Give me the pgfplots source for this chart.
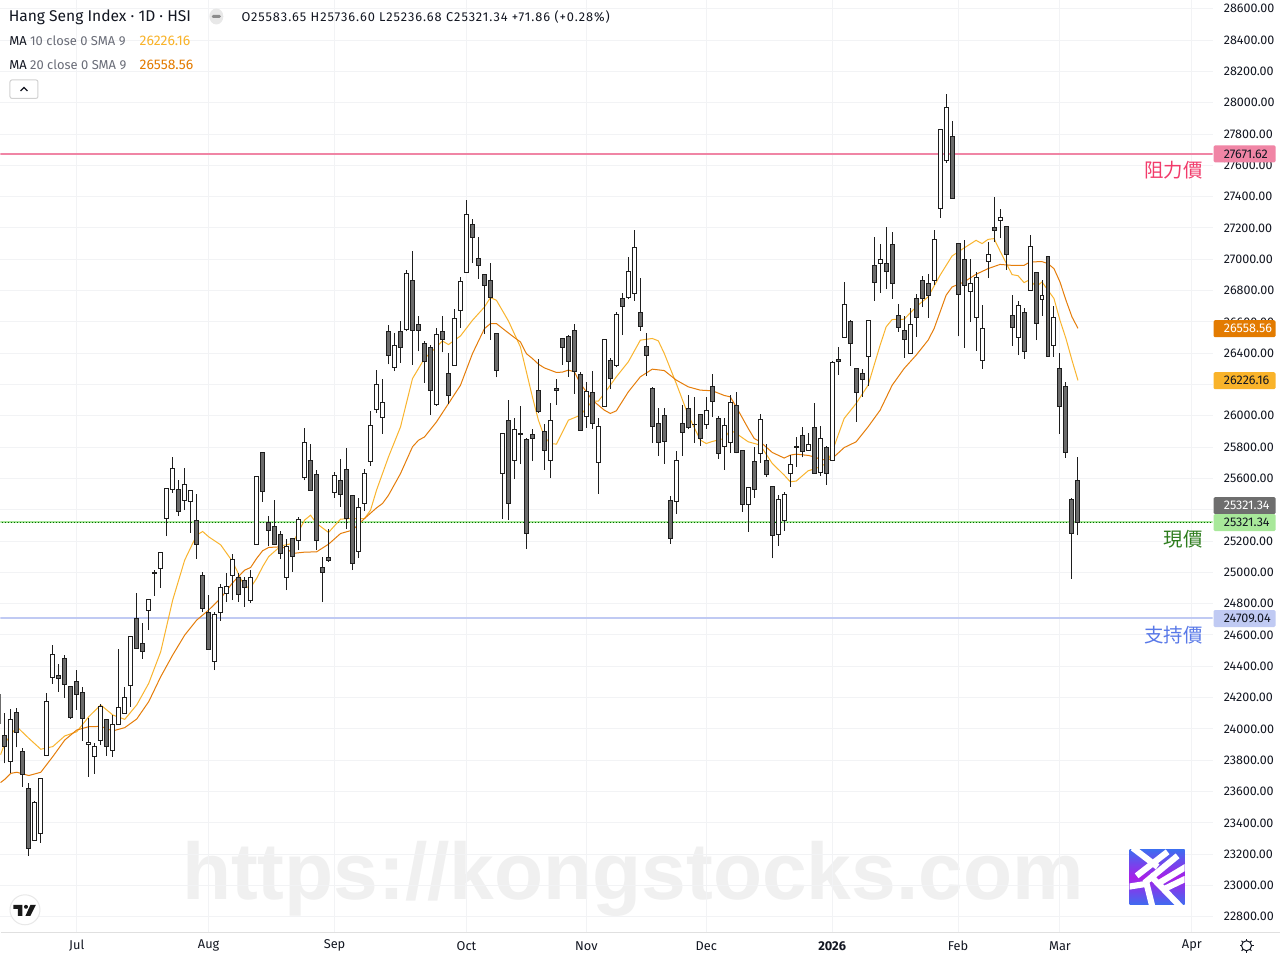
\documentclass[border=0pt]{standalone}
\usepackage{fontspec}
\usepackage{pgfplots}
\pgfplotsset{compat=1.18}
\usetikzlibrary{calc}
\setmainfont{Fira Sans}
\newfontfamily\wmfont{Liberation Sans}
\newfontfamily\cjk{Noto Sans CJK TC}
\definecolor{gridc}{HTML}{F2F3F5}
\definecolor{candle}{HTML}{1E1E1E}
\definecolor{downc}{HTML}{6B6B6B}
\definecolor{maa}{HTML}{F9B42E}
\definecolor{mab}{HTML}{E57D0A}
\definecolor{tagpink}{HTML}{F085A5}
\definecolor{tagblue}{HTML}{C0CAF3}
\definecolor{taggreen}{HTML}{A8E89A}
\definecolor{tagorange}{HTML}{E37B00}
\definecolor{tagamber}{HTML}{F9B32A}
\definecolor{taggray}{HTML}{6E6E6E}
\definecolor{txt}{HTML}{131722}
\definecolor{txtg}{HTML}{6A6D78}
\definecolor{capred}{HTML}{F23B6B}
\definecolor{capgreen}{HTML}{2E7D1E}
\definecolor{capblue}{HTML}{5878E8}
\definecolor{logob}{HTML}{3F6CF0}
\definecolor{logop}{HTML}{A81FE8}
\pgfplotsset{
  cl/.style={draw=candle,line width=0.75pt,forget plot},
  cw/.style={draw=candle,fill=white,line width=0.75pt,forget plot},
  cd/.style={draw=candle,fill=downc,line width=0.75pt,forget plot}
}
% x, high, body top, body bottom, low
\newcommand{\candle}[6]{%
  \pgfmathsetmacro\xa{#2-0.333}\pgfmathsetmacro\xb{#2+0.333}%
  \addplot[cl] coordinates {(#2,#6)(#2,#3)};
  \addplot[#1] coordinates {(\xa,#5)(\xb,#5)(\xb,#4)(\xa,#4)} -- cycle;}
\newcommand{\W}[5]{\candle{cw}{#1}{#2}{#3}{#4}{#5}}
\newcommand{\D}[5]{\candle{cd}{#1}{#2}{#3}{#4}{#5}}
\newcommand{\fs}[1]{\fontsize{#1}{#1}\selectfont}
\newcommand{\tagbox}[5]{% y-top, y-bottom, fill, text colour, text
  \fill[#3,rounded corners=1pt] (1214,#1) rectangle (1276,#2);
  \node[anchor=west,inner sep=0pt,text=#4,font=\fs{9.4}] at (1224,{(#1+#2)/2}) {#5};}
\begin{document}
\begin{tikzpicture}
\begin{scope}[x=0.75pt,y=-0.75pt]
\useasboundingbox (0,0) rectangle (1280,960);
\fill[white] (0,0) rectangle (1280,960);
\node[anchor=base west,inner sep=0pt,text=black!6,font={\fontsize{60.3}{60.3}\selectfont\wmfont\bfseries}] at (181.5,900) {https://kongstocks.com};
\end{scope}
\begin{axis}[
  at={(0pt,-699pt)},anchor=south west,
  width=909.75pt,height=699pt,scale only axis,
  xmin=-0.722,xmax=201.45,ymin=22704,ymax=28653,
  axis line style={draw=none},
  tick style={draw=none},
  major tick length=0pt,
  grid=major,
  major grid style={draw=gridc,line width=0.75pt},
  xtick={12,34,55,77,97,117,138,159,176,198},
  xticklabels={Jul,Aug,Sep,Oct,Nov,Dec,\textbf{2026},Feb,Mar,Apr},
  xticklabel style={anchor=center,yshift=-10.5pt,inner sep=0pt,font=\fs{9.6},text=txt},
  ytick={22800,23000,23200,23400,23600,23800,24000,24200,24400,24600,24800,25000,25200,25400,25600,25800,26000,26200,26400,26600,26800,27000,27200,27400,27600,27800,28000,28200,28400,28600},
  yticklabel pos=right,
  yticklabel style={anchor=west,inner sep=0pt,xshift=8.25pt,font=\fs{9.4},text=txt},
  scaled y ticks=false,
  /pgf/number format/fixed,
  /pgf/number format/fixed zerofill,
  /pgf/number format/precision=2,
  /pgf/number format/1000 sep={},
  /pgf/number format/assume math mode=true,
]
% level lines
\addplot[tagpink,line width=1.7pt,forget plot] coordinates {(-1,27671.62) (202,27671.62)};
\addplot[tagblue,line width=1.7pt,forget plot] coordinates {(-1,24709.04) (202,24709.04)};
\addplot[taggreen,line width=1.5pt,forget plot] coordinates {(-1,25321.34) (202,25321.34)};
\addplot[green!40!black,line width=0.5pt,dash pattern=on 0.75pt off 1.5pt,forget plot] coordinates {(-1,25321.34) (202,25321.34)};
% MA 10
\addplot[maa,line width=0.75pt,forget plot] coordinates {
(-0.72,23834)(0,23908)(2,24014)(4,23940)(6,23870)(8,23887)(10,23955)(12,23982)(14,24078)(16,24153)(18,24089)(20,24061)(22,24153)(24,24291)(26,24493)(28,24823)(30,25078)(32,25238)(33,25261)(34,25227)(36,25176)(38,25068)(40,24908)(41,24904)
(42,24961)(43,25036)(44,25100)(46,25168)(48,25185)(50,25334)(51,25365)(52,25312)(54,25255)(56,25340)(58,25344)(60,25344)(61,25397)(62,25525)(64,25738)(66,25929)(68,26238)(70,26366)(72,26440)(73,26478)(74,26455)(76,26510)(78,26610)(80,26695)(81,26755)(82,26738)(84,26606)(86,26440)(88,26121)
(89,25972)(90,25866)(91,25823)(92,25819)(94,25972)(96,26004)(98,26094)(99,26094)(100,26143)(102,26249)(104,26345)(106,26483)(108,26494)(109,26479)(110,26398)(112,26206)(114,26004)(116,25845)(117,25823)(118,25836)(120,25855)(121,25909)(122,25887)(124,25834)(126,25813)(128,25696)(130,25621)(131,25579)(132,25583)(134,25649)(135,25660)
(136,25675)(137,25696)(138,25770)(140,25983)(142,26079)(144,26196)(146,26451)(147,26568)(148,26615)(150,26617)(152,26696)(154,26760)(156,26898)(158,27021)(160,27072)(162,27121)(163,27100)(164,27127)(165,27132)(166,27053)(168,26902)(169,26895)(170,26851)(171,26870)(172,26823)(173,26855)(174,26802)(175,26749)(176,26610)(177,26493)(178,26355)(179,26226.16)};
% MA 20
\addplot[mab,line width=0.75pt,forget plot] coordinates {
(-0.72,23657)(0,23678)(1,23716)(2,23723)(4,23702)(6,23723)(8,23823)(10,23929)(12,23993)(14,24014)(16,24016)(18,23987)(20,24008)(22,24063)(24,24174)(26,24333)(28,24472)(30,24599)(32,24695)(34,24759)(36,24834)(38,24934)(40,25014)(41,25031)
(42,25089)(43,25138)(44,25159)(46,25163)(47,25153)(48,25121)(50,25129)(52,25131)(54,25180)(56,25248)(58,25270)(60,25344)(62,25412)(63,25440)(64,25493)(66,25631)(68,25802)(69,25844)(70,25865)(72,25961)(74,26078)(76,26195)(78,26397)(80,26557)(81,26589)(82,26589)(84,26529)(85,26500)(86,26472)(87,26397)(88,26366)
(89,26330)(90,26306)(92,26277)(93,26279)(94,26292)(95,26281)(96,26206)(98,26100)(100,26036)(101,26015)(102,26032)(104,26153)(106,26249)(108,26298)(110,26289)(112,26228)(114,26185)(116,26164)(118,26160)(120,26130)(121,26121)(122,26057)(124,25919)(125,25855)(126,25834)(128,25766)(130,25730)(131,25749)(132,25755)(134,25747)(135,25738)
(136,25723)(137,25717)(138,25727)(140,25797)(142,25834)(144,25930)(146,26036)(148,26195)(150,26302)(152,26387)(154,26483)(155,26557)(156,26663)(157,26770)(158,26823)(160,26855)(162,26904)(164,26940)(166,26967)(168,26961)(170,26961)(171,26983)(173,26985)(174,26972)(175,26940)(176,26855)(177,26738)(178,26632)(179,26558.56)};
% candles: x, high, top, bottom, low
\W{-1}{24221}{24221}{24036}{24036}
\D{0}{24100}{23959}{23887}{23780}
\W{1}{24125}{24061}{23791}{23716}
\D{2}{24131}{24106}{23976}{23882}
\D{3}{23876}{23857}{23710}{23631}
\D{4}{23653}{23621}{23238}{23191}
\W{5}{23540}{23531}{23289}{23289}
\W{6}{23685}{23685}{23333}{23274}
\W{7}{24227}{24176}{23831}{23831}
\W{8}{24536}{24476}{24329}{24287}
\D{9}{24414}{24342}{24323}{24236}
\D{10}{24470}{24451}{24285}{24199}
\D{11}{24272}{24272}{24074}{24065}
\D{12}{24376}{24304}{24221}{24121}
\D{13}{24265}{24233}{24068}{23923}
\W{14}{24068}{23914}{23902}{23695}
\W{15}{23908}{23889}{23825}{23712}
\W{16}{24157}{24144}{23927}{23897}
\D{17}{24061}{24061}{23889}{23827}
\W{18}{24089}{24029}{23863}{23823}
\W{19}{24510}{24138}{24029}{24029}
\W{20}{24270}{24202}{24099}{24099}
\W{21}{24591}{24591}{24278}{24142}
\D{22}{24865}{24706}{24514}{24514}
\D{23}{24674}{24546}{24495}{24448}
\W{24}{24827}{24827}{24757}{24631}
\W{25}{25014}{24997}{24993}{24851}
\W{26}{25127}{25127}{25025}{24902}
\W{27}{25536}{25536}{25344}{25231}
\W{28}{25734}{25663}{25529}{25508}
\D{29}{25589}{25529}{25389}{25359}
\W{30}{25665}{25561}{25459}{25397}
\W{31}{25529}{25523}{25453}{25253}
\D{32}{25499}{25331}{25178}{25087}
\D{33}{25002}{24980}{24770}{24746}
\D{34}{24855}{24744}{24508}{24508}
\W{35}{24748}{24731}{24431}{24376}
\W{36}{24925}{24904}{24744}{24691}
\W{37}{24999}{24910}{24865}{24810}
\W{38}{25117}{25082}{24980}{24823}
\D{39}{24999}{24968}{24859}{24812}
\D{40}{24968}{24948}{24904}{24780}
\W{41}{25014}{24968}{24819}{24806}
\W{42}{25612}{25612}{25178}{25178}
\D{43}{25765}{25765}{25514}{25451}
\D{44}{25359}{25319}{25268}{25168}
\D{45}{25465}{25293}{25178}{25178}
\D{46}{25263}{25242}{25121}{25085}
\W{47}{25210}{25165}{24968}{24887}
\D{48}{25217}{25217}{25102}{25004}
\W{49}{25351}{25338}{25204}{25142}
\W{50}{25919}{25829}{25606}{25589}
\D{51}{25819}{25714}{25523}{25523}
\D{52}{25653}{25625}{25204}{25142}
\D{53}{25095}{25031}{25000}{24810}
\D{54}{25274}{25095}{25076}{25068}
\W{55}{25638}{25619}{25510}{25476}
\D{56}{25721}{25587}{25497}{25419}
\D{57}{25793}{25657}{25344}{25276}
\D{58}{25491}{25491}{25057}{25014}
\W{59}{25472}{25414}{25134}{25091}
\W{60}{25663}{25631}{25440}{25391}
\W{61}{26029}{25938}{25708}{25680}
\W{62}{26295}{26200}{26040}{26019}
\W{63}{26238}{26085}{25989}{25885}
\D{64}{26583}{26538}{26385}{26329}
\W{65}{26531}{26448}{26308}{26285}
\D{66}{26604}{26538}{26436}{26338}
\W{67}{26934}{26908}{26551}{26540}
\D{68}{27055}{26863}{26544}{26325}
\D{69}{26640}{26583}{26544}{26412}
\D{70}{26480}{26461}{26346}{26210}
\D{71}{26455}{26436}{26161}{26006}
\W{72}{26563}{26519}{26072}{26063}
\D{73}{26640}{26538}{26487}{26406}
\D{74}{26404}{26270}{26129}{26078}
\W{75}{26685}{26621}{26321}{26321}
\W{76}{26889}{26857}{26672}{26563}
\W{77}{27380}{27285}{26914}{26914}
\D{78}{27259}{27221}{27138}{26976}
\D{79}{27144}{27004}{26959}{26874}
\D{80}{26908}{26902}{26831}{26521}
\D{81}{26978}{26863}{26755}{26483}
\D{82}{26525}{26525}{26289}{26246}
\W{83}{25893}{25887}{25631}{25340}
\D{84}{26104}{25970}{25440}{25334}
\W{85}{25983}{25912}{25714}{25595}
\W{86}{26061}{25887}{25883}{25691}
\D{87}{25861}{25848}{25248}{25148}
\D{88}{25914}{25880}{25855}{25710}
\D{89}{26366}{26162}{26028}{26019}
\D{90}{25945}{25900}{25779}{25655}
\W{91}{26079}{25970}{25715}{25600}
\D{92}{26238}{26175}{26162}{26070}
\D{93}{26494}{26494}{26436}{26326}
\D{94}{26519}{26506}{26347}{26249}
\D{95}{26589}{26545}{26283}{26140}
\D{96}{26283}{26264}{25906}{25906}
\W{97}{26219}{26155}{25996}{25923}
\D{98}{26289}{26149}{25951}{25915}
\W{99}{25983}{25932}{25702}{25502}
\W{100}{26487}{26487}{26060}{26060}
\D{101}{26372}{26353}{26238}{26170}
\W{102}{26666}{26647}{26321}{26309}
\D{103}{26787}{26749}{26698}{26515}
\W{104}{27017}{26921}{26755}{26743}
\W{105}{27189}{27075}{26781}{26734}
\D{106}{26883}{26660}{26570}{26543}
\D{107}{26532}{26443}{26385}{26253}
\D{108}{26187}{26175}{25932}{25828}
\D{109}{26047}{25951}{25830}{25745}
\D{110}{26047}{26002}{25836}{25694}
\D{111}{25485}{25460}{25217}{25183}
\W{112}{25772}{25715}{25453}{25374}
\D{113}{26066}{25951}{25894}{25745}
\D{114}{26136}{26047}{25926}{25913}
\W{115}{26123}{25947}{25943}{25828}
\D{116}{26009}{26009}{25855}{25809}
\W{117}{26121}{26034}{25945}{25917}
\D{118}{26264}{26187}{26092}{25992}
\D{119}{25996}{25983}{25760}{25726}
\W{120}{25989}{25938}{25804}{25655}
\W{121}{26130}{26085}{25830}{25764}
\D{122}{26149}{26066}{25766}{25760}
\D{123}{25779}{25779}{25434}{25387}
\W{124}{25543}{25543}{25434}{25260}
\D{125}{25798}{25709}{25530}{25477}
\W{126}{26009}{25977}{25760}{25700}
\D{127}{25823}{25715}{25626}{25611}
\D{128}{25549}{25549}{25236}{25089}
\W{129}{25492}{25466}{25243}{25170}
\W{130}{25511}{25498}{25332}{25266}
\W{131}{25747}{25689}{25632}{25547}
\D{132}{25862}{25804}{25798}{25675}
\D{133}{25926}{25875}{25772}{25734}
\W{134}{25887}{25817}{25779}{25779}
\D{135}{26085}{25926}{25632}{25632}
\W{136}{25932}{25855}{25638}{25617}
\D{137}{25810}{25798}{25632}{25559}
\W{138}{26347}{26340}{25715}{25715}
\D{139}{26442}{26359}{26347}{26261}
\W{140}{26857}{26710}{26500}{26500}
\D{141}{26615}{26602}{26461}{26319}
\D{142}{26308}{26302}{26149}{25961}
\D{143}{26302}{26270}{26232}{26121}
\W{144}{26608}{26608}{26378}{26191}
\D{145}{27144}{26959}{26851}{26734}
\W{146}{27100}{26998}{26972}{26785}
\D{147}{27208}{26972}{26921}{26810}
\D{148}{27176}{27093}{26844}{26747}
\D{149}{26717}{26640}{26563}{26536}
\D{150}{26640}{26544}{26487}{26370}
\W{151}{26691}{26583}{26398}{26398}
\D{152}{26781}{26749}{26627}{26504}
\D{153}{26895}{26863}{26749}{26695}
\D{154}{26908}{26844}{26768}{26625}
\W{155}{27189}{27125}{26863}{26834}
\W{156}{27828}{27828}{27323}{27264}
\W{157}{28057}{27968}{27630}{27615}
\D{158}{27885}{27783}{27387}{27387}
\D{159}{27100}{27100}{26774}{26508}
\D{160}{27125}{26998}{26832}{26434}
\W{161}{27004}{26844}{26793}{26600}
\W{162}{26921}{26883}{26627}{26415}
\W{163}{26710}{26557}{26353}{26300}
\W{164}{27112}{27030}{26985}{26880}
\D{165}{27400}{27202}{27183}{27110}
\W{166}{27323}{27266}{27247}{27134}
\D{167}{27215}{27208}{27030}{26934}
\D{168}{26774}{26640}{26563}{26447}
\W{169}{26736}{26704}{26500}{26387}
\D{170}{26691}{26659}{26410}{26364}
\W{171}{27157}{27081}{26800}{26800}
\D{172}{26915}{26915}{26589}{26483}
\W{173}{26870}{26768}{26742}{26638}
\D{174}{27023}{27017}{26378}{26378}
\W{175}{26704}{26627}{26449}{26376}
\D{176}{26404}{26302}{26059}{25885}
\D{177}{26219}{26187}{25766}{25732}
\D{178}{25472}{25466}{25249}{24959}
\D{179}{25736.60}{25583.65}{25321.34}{25236.68}
\end{axis}
\begin{scope}[x=0.75pt,y=-0.75pt]
% axis rule at the bottom
\draw[draw=black!12,line width=0.75pt] (0,932.5) -- (1280,932.5);
% price tags
\tagbox{145}{162}{tagpink}{txt}{27671.62}
\tagbox{320}{337}{tagorange}{white}{26558.56}
\tagbox{372}{389}{tagamber}{txt}{26226.16}
\tagbox{497}{514}{taggray}{white}{25321.34}
\tagbox{514}{531}{taggreen}{txt}{25321.34}
\tagbox{610}{627}{tagblue}{txt}{24709.04}
% level captions
\node[anchor=east,inner sep=0pt,text=capred,font={\fs{14.6}\cjk}] at (1203.5,170) {阻力價};
\node[anchor=east,inner sep=0pt,text=capgreen,font={\fs{14.6}\cjk}] at (1203.5,539) {現價};
\node[anchor=east,inner sep=0pt,text=capblue,font={\fs{14.6}\cjk}] at (1203.5,635) {支持價};
% header
\node[anchor=base west,inner sep=0pt,text=txt,font=\fs{11.7}] at (8,21.5) {Hang Seng Index · 1D · HSI};
\fill[black!9] (216,16) circle[x radius=7,y radius=8];
\fill[black!45,rounded corners=1pt] (211.5,14.5) rectangle (220.5,17.5);
\node[anchor=base west,inner sep=0pt,text=txt,font={\fs{9.6}\addfontfeature{LetterSpace=7.4}}] at (241,21) {O25583.65 H25736.60 L25236.68 C25321.34 +71.86 (+0.28\%)};
\node[anchor=base west,inner sep=0pt,font=\fs{9.7}] at (8.5,45) {\textcolor{txt}{MA} \textcolor{txtg}{10 close 0 SMA 9}};
\node[anchor=base west,inner sep=0pt,text=tagamber,font=\fs{10.45}] at (139,45) {26226.16};
\node[anchor=base west,inner sep=0pt,font=\fs{9.7}] at (8.5,69) {\textcolor{txt}{MA} \textcolor{txtg}{20 close 0 SMA 9}};
\node[anchor=base west,inner sep=0pt,text=tagorange,font=\fs{10.45}] at (139,69) {26558.56};
\draw[draw=black!18,fill=white,line width=0.75pt,rounded corners=1.5pt] (9.5,79.5) rectangle (37.5,98);
\draw[txt,line width=0.9pt] (20,90.5) -- (23.5,87) -- (27,90.5);
% logo
\shade[shading angle=45,top color=logob,bottom color=logob,middle color=logop] (1130,850) rectangle (1185,905);
\begin{scope}
\clip (1130,850) rectangle (1185,905);
\draw[white,line width=4.6pt]
 (1133,848) -- (1158,867)
 (1137,876) -- (1168,852)
 (1145,883) -- (1178,856)
 (1158,884) -- (1188,866)
 (1165,889) -- (1188,878)
 (1150,875) -- (1182,908)
 (1128,887) -- (1147,884) -- (1153,908);
\end{scope}
% TradingView badge
\draw[draw=black!9,fill=white,line width=0.75pt] (24.5,910) circle[radius=15];
\fill[black!90] (13,905) -- (22,905) -- (22,916) -- (17.5,916) -- (17.5,909) -- (13,909) -- cycle;
\fill[black!90] (25.5,907) circle[radius=2];
\fill[black!90] (30,905) -- (35.5,905) -- (30,916) -- (25,916) -- cycle;
% settings gear
\draw[txt,line width=0.75pt] (1247,946) circle[radius=5];
\foreach \a in {0,45,...,315}{\draw[txt,line width=0.75pt] ($(1247,946)+(\a:5)$) -- ($(1247,946)+(\a:7)$);}
\end{scope}
\end{tikzpicture}
\end{document}
